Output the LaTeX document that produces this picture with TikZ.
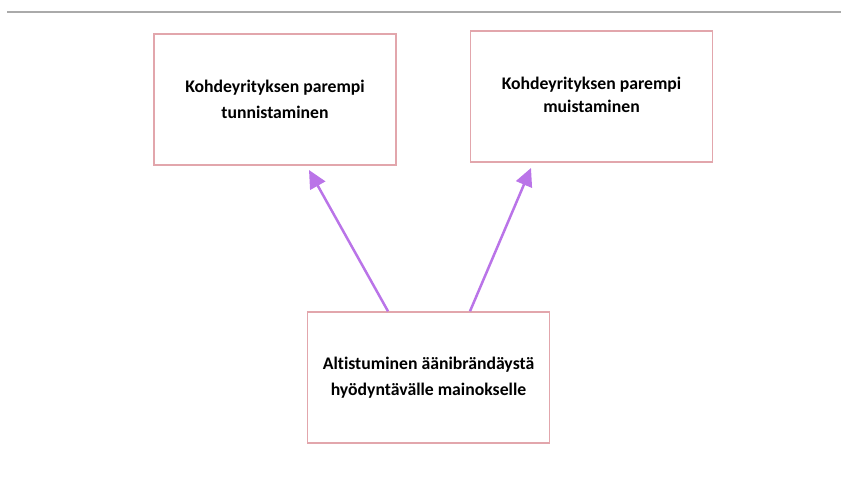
\documentclass[tikz,border=0pt]{standalone}
\usepackage{fontspec}
\setmainfont[Ligatures={NoCommon}]{Carlito}
\usetikzlibrary{arrows.meta}
\definecolor{boxline}{RGB}{226,166,172}
\definecolor{arrowcol}{RGB}{186,116,232}
\definecolor{rulegray}{RGB}{170,170,170}
\tikzset{
  box/.style={draw=boxline, line width=1.5pt, minimum width=242pt, minimum height=131pt,
    align=center, font=\bfseries\fontsize{17.7}{26}\selectfont, inner sep=0pt},
  link/.style={draw=arrowcol, line width=2.5pt, -{Triangle[length=18pt,width=17pt]}}
}
\begin{document}
\begin{tikzpicture}[x=1pt,y=-1pt]
  \useasboundingbox (0,0) rectangle (841,482);
  \coordinate (r1) at (7,12);
  \coordinate (r2) at (841,12);
  \draw[rulegray, line width=2.5pt] (r1) -- (r2);
  \node[box] (b1) at (275,99.5) {Kohdeyrityksen parempi\\tunnistaminen};
  \node[box] (b2) at (591.5,96.5) {\raisebox{3pt}{\shortstack{Kohdeyrityksen parempi\\[5pt]muistaminen}}};
  \node[box] (b3) at (428.5,377.5) {Altistuminen äänibrändäystä\\hyödyntävälle mainokselle};
  \coordinate (t1) at (309,170);
  \coordinate (t2) at (531,168);
  \draw[link] ([xshift=-40.5pt]b3.north) -- (t1);
  \draw[link] ([xshift=41.5pt]b3.north) -- (t2);
\end{tikzpicture}
\end{document}
